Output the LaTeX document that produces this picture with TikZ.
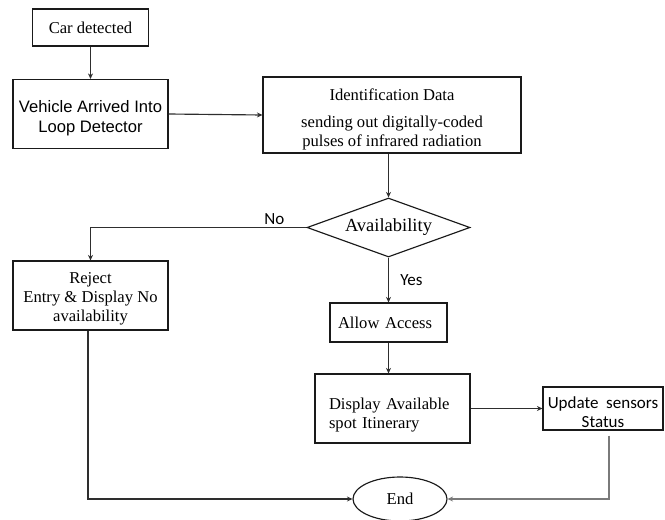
\documentclass[tikz,border=0pt]{standalone}
\usepackage{fontspec}
\setmainfont{Liberation Serif}
\newfontfamily\arialfont{Liberation Sans}
\newfontfamily\calibrifont{Carlito}
\usetikzlibrary{shapes.geometric,arrows.meta}

\definecolor{edgeclr}{HTML}{1A1A1A}
\definecolor{lineclr}{HTML}{2E2E2E}
\definecolor{pale}{HTML}{7A7A7A}

% invisible strut that makes room above the first line of a box
\newcommand\headroom[1]{\rule{0pt}{#1}}

\tikzset{
  serif/.style={font=\fontsize{16.6}{19}\selectfont},
  sans/.style={font=\arialfont\fontsize{16.6}{20}\selectfont},
  calib/.style={font=\calibrifont\fontsize{17}{19}\selectfont},
  flowbox/.style={draw=edgeclr, line width=1.15pt, rectangle, inner sep=0pt, align=center},
  decide/.style={draw=edgeclr, line width=1.15pt, diamond, inner sep=0pt, aspect=2.76},
  terminal/.style={draw=edgeclr, line width=1.15pt, ellipse, inner sep=0pt},
  flow/.style={draw=lineclr, line width=1.15pt, -{Stealth[length=5.5pt,width=5pt]}},
}

\begin{document}
\begin{tikzpicture}[x=1pt,y=-1pt]
\useasboundingbox[fill=white] (0,0) rectangle (665,520);

% process boxes
\node[flowbox, serif, minimum width=116, minimum height=37] (car) at (90.5,27.5) {Car detected};
\node[flowbox, sans, minimum width=155, minimum height=69] (veh) at (90.5,114)
  {\headroom{21pt}Vehicle Arrived Into\\Loop Detector};
\node[flowbox, serif, minimum width=258, minimum height=76] (ident) at (392,115)
  {\headroom{20.5pt}Identification Data\\[8pt]sending out digitally-coded\\pulses of infrared radiation};
\node[decide, font=\fontsize{18.5}{20}\selectfont, minimum width=163, minimum height=59] (avail) at (388.5,227.5) {Availability};
\node[flowbox, serif, minimum width=155, minimum height=69] (reject) at (90.5,295.5)
  {\headroom{17.5pt}Reject\\Entry \& Display No\\availability};
\node[flowbox, serif, text width=101pt, inner xsep=8pt, align=left, minimum height=39] (allow) at (388.5,322.5) {Allow Access};
\node[flowbox, serif, text width=127pt, inner xsep=14pt, align=left, minimum height=69] (disp) at (392.5,408.5)
  {\headroom{25.5pt}Display Available\\spot Itinerary};
\node[flowbox, calib, minimum width=120, minimum height=43] (upd) at (603,408.5)
  {\headroom{20pt}Update\ \ sensors\\Status};
\node[terminal, serif, minimum width=94, minimum height=44] (fin) at (400,499) {End};

% connectors
\draw[flow] (car) -- (veh);
\draw[flow] (veh.east) -- (ident.west);
\draw[flow] (avail.north |- ident.south) -- (avail.north);
\draw[flow] (avail.west) -| node[pos=0.074, above, inner sep=2pt, calib, text=black] (nolbl) {No} (reject.north);
\draw[flow] (avail.south) -- node[right, xshift=8pt, calib, text=black] (yeslbl) {Yes} (allow.north);
\draw[flow] (allow.south) -- (allow.south |- disp.north);
\draw[flow] (disp.east |- upd.west) -- (upd.west);
\draw[flow, draw=pale] ([xshift=6pt,yshift=-5pt]upd.south) |- (fin.east);
\draw[flow] ([xshift=-2.5pt]reject.south) |- (fin.west);
\end{tikzpicture}
\end{document}
